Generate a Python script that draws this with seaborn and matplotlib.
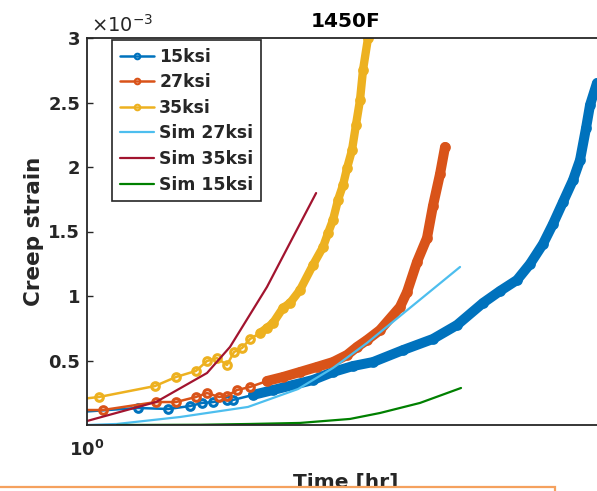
import matplotlib
matplotlib.use("Agg")
import matplotlib.pyplot as plt
import seaborn as sns
import pandas as pd
from matplotlib.patches import Rectangle

# ---------------- data (time in hr, creep strain in units of 1e-3) ----------------
t_15 = [0.97, 1.216, 1.365, 1.485, 1.555, 1.622, 1.711, 1.751, 1.891, 2.042, 2.205,
        2.380, 2.570, 2.775, 2.997, 3.363, 3.772, 4.137, 4.571, 4.880, 5.209, 5.474,
        5.754, 5.979, 6.214, 6.457, 6.633, 6.788, 6.893, 7.079]
s_15 = [0.101, 0.132, 0.124, 0.147, 0.171, 0.178, 0.194, 0.194, 0.233, 0.271, 0.310,
        0.349, 0.411, 0.457, 0.488, 0.581, 0.667, 0.775, 0.946, 1.039, 1.124, 1.248,
        1.403, 1.558, 1.729, 1.899, 2.054, 2.302, 2.481, 2.651]

t_27 = [0.97, 1.063, 1.303, 1.407, 1.519, 1.585, 1.660, 1.711, 1.778, 1.870, 1.995,
        2.121, 2.265, 2.417, 2.570, 2.713, 2.818, 2.929, 3.078, 3.324, 3.415, 3.548,
        3.687, 3.772, 3.876, 3.951]
s_27 = [0.116, 0.116, 0.178, 0.178, 0.217, 0.248, 0.217, 0.225, 0.271, 0.295, 0.341,
        0.372, 0.411, 0.450, 0.488, 0.543, 0.605, 0.659, 0.736, 0.915, 1.031, 1.264,
        1.450, 1.698, 1.946, 2.155]

t_35 = [0.97, 1.047, 1.298, 1.407, 1.519, 1.585, 1.647, 1.711, 1.758, 1.813, 1.870,
        1.942, 1.995, 2.042, 2.121, 2.180, 2.265, 2.380, 2.474, 2.522, 2.570, 2.620,
        2.671, 2.713, 2.765, 2.807, 2.851, 2.884, 2.940]
s_35 = [0.200, 0.217, 0.302, 0.372, 0.419, 0.496, 0.519, 0.465, 0.566, 0.597, 0.667,
        0.713, 0.752, 0.791, 0.907, 0.946, 1.047, 1.240, 1.380, 1.488, 1.589, 1.744,
        1.860, 1.992, 2.132, 2.326, 2.519, 2.752, 3.000]

t_sim27 = [1.000, 1.122, 1.429, 1.855, 2.248, 2.570, 2.929, 4.185]
s_sim27 = [0.000, 0.008, 0.062, 0.140, 0.279, 0.442, 0.636, 1.225]

t_sim35 = [1.000, 1.303, 1.585, 1.731, 1.995, 2.205, 2.409]
s_sim35 = [0.031, 0.178, 0.403, 0.605, 1.070, 1.457, 1.798]

t_sim15 = [1.122, 1.543, 1.870, 2.265, 2.744, 3.078, 3.589, 4.201]
s_sim15 = [0.000, 0.002, 0.008, 0.016, 0.047, 0.093, 0.171, 0.287]

labels = ["15ksi", "27ksi", "35ksi", "Sim 27ksi", "Sim 35ksi", "Sim 15ksi"]
y_ticks = [0.5, 1, 1.5, 2, 2.5, 3]
y_ticklabels = ["0.5", "1", "1.5", "2", "2.5", "3"]

# ---------------- style ----------------
sns.set_theme(style="white")
plt.rcParams['font.family'] = ['DejaVu Sans']
plt.rcParams['mathtext.fontset'] = 'dejavusans'

C_BLUE, C_ORANGE, C_YELLOW = '#0072BD', '#D95319', '#EDB120'
C_CYAN, C_RED, C_GREEN = '#4DBEEE', '#A2142F', '#008000'
DARK = '#262626'

fig = plt.figure(figsize=(5.97, 4.91), dpi=100)
ax = fig.add_axes([87 / 597, 66 / 491, 518 / 597, 387 / 491])

exp = [(t_15, s_15, C_BLUE, labels[0], 8, 7.2),
       (t_27, s_27, C_ORANGE, labels[1], 10, 7.2),
       (t_35, s_35, C_YELLOW, labels[2], 11, 6.0)]
for t, s, c, lab, k, bw in exp:
    df = pd.DataFrame({"t": t, "s": s})
    sns.lineplot(data=df, x="t", y="s", ax=ax, color=c, linewidth=1.8,
                 marker='o', markersize=5.5, markerfacecolor='none',
                 markeredgecolor=c, markeredgewidth=2.2, sort=False,
                 estimator=None, label=lab)
    sns.lineplot(data=df.iloc[k:], x="t", y="s", ax=ax, color=c, linewidth=bw,
                 solid_capstyle='round', solid_joinstyle='round', sort=False,
                 estimator=None)

sims = [(t_sim27, s_sim27, C_CYAN, labels[3]),
        (t_sim35, s_sim35, C_RED, labels[4]),
        (t_sim15, s_sim15, C_GREEN, labels[5])]
for t, s, c, lab in sims:
    df = pd.DataFrame({"t": t, "s": s})
    sns.lineplot(data=df, x="t", y="s", ax=ax, color=c, linewidth=1.6,
                 sort=False, estimator=None, label=lab)

ax.set_xscale('log')
ax.set_xlim(1, 7.3)
ax.set_ylim(0, 3)
ax.set_xticks([1])
ax.set_xticklabels([r'$\mathbf{10^{0}}$'], fontsize=13)
ax.xaxis.set_minor_locator(matplotlib.ticker.NullLocator())
ax.set_yticks(y_ticks)
ax.set_yticklabels(y_ticklabels, fontsize=13, fontweight='bold', color=DARK)
ax.tick_params(axis='y', direction='in', length=4, width=1, color=DARK, pad=5, left=True)
ax.tick_params(axis='x', direction='in', length=0, pad=11, colors=DARK)

for sp in ax.spines.values():
    sp.set_color(DARK)
    sp.set_linewidth(1.3)

ax.set_title('1450F', fontsize=14.5, fontweight='bold', color='black', pad=8)
ax.set_ylabel('Creep strain', fontsize=15.5, fontweight='bold', color=DARK)
ax.yaxis.set_label_coords(-0.083, 0.5)
ax.set_xlabel('Time [hr]', fontsize=14.5, fontweight='bold', color=DARK)
ax.xaxis.set_label_coords(0.5, -0.124)

fig.text(91 / 597, 1 - 32 / 491, '×10$^{-3}$', fontsize=14, color=DARK, va='baseline')

handles, labs = ax.get_legend_handles_labels()
leg = ax.legend(handles, labs, loc='upper left', bbox_to_anchor=(0.048, 0.995),
                borderaxespad=0, prop={'weight': 'bold', 'size': 12.4},
                frameon=True, fancybox=False, framealpha=1, edgecolor=DARK,
                borderpad=0.45, labelspacing=0.44, handlelength=2.0,
                handletextpad=0.3)
leg.get_frame().set_linewidth(1.2)
for h in leg.legend_handles:
    h.set_markersize(4)
    h.set_markeredgewidth(1.5)

rect = Rectangle((-0.01, -0.01), 555 / 597 + 0.01, (491 - 487) / 491 + 0.01,
                 transform=fig.transFigure, facecolor='white', edgecolor='#F5A15E',
                 linewidth=1.6, zorder=10)
fig.add_artist(rect)

fig.savefig('out.png', dpi=100)
